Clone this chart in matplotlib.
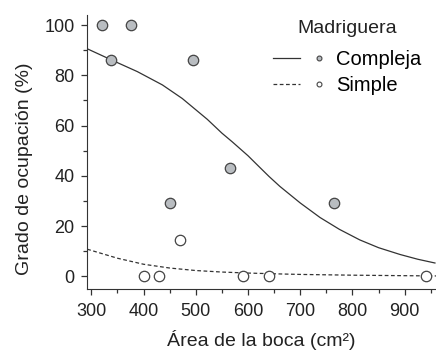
import matplotlib.pyplot as plt
from matplotlib.lines import Line2D
from matplotlib.legend_handler import HandlerTuple
from matplotlib.ticker import MultipleLocator

plt.rcParams['font.family'] = ['Liberation Sans', 'DejaVu Sans']

# observed points
compleja_x = [320, 375, 338, 495, 565, 450, 765]
compleja_y = [100, 100, 86, 86, 43, 29, 29]
simple_x = [470, 400, 430, 590, 640, 940]
simple_y = [14.3, 0, 0, 0, 0, 0]

# fitted curves
compleja_fx = [292, 340, 388, 436, 474, 522, 550, 570, 600, 617, 640, 661,
               700, 738, 775, 814, 850, 891, 925, 958]
compleja_fy = [90.6, 86, 81.5, 76.2, 70.8, 62.5, 57, 53.5, 48, 44.5, 39.8, 35.8,
               29.2, 23.4, 18.7, 14.5, 11.4, 8.7, 6.8, 5.3]
simple_fx = [292, 350, 400, 450, 500, 550, 600, 650, 700, 800, 900, 960]
simple_fy = [10.8, 7.2, 4.8, 3.3, 2.3, 1.7, 1.3, 1.0, 0.75, 0.45, 0.25, 0.15]

fig = plt.figure(figsize=(4.36, 3.51), dpi=100)
ax = fig.add_axes([0.2, 0.177, 0.8, 0.78])

line_c, = ax.plot(compleja_fx, compleja_fy, '-', color='#333333', lw=0.9)
line_s, = ax.plot(simple_fx, simple_fy, '--', color='#333333', lw=0.9, dashes=(3, 2))
ax.plot(compleja_x, compleja_y, 'o', ms=7.5, mfc='#b9bdc1', mec='#444444', mew=0.9, clip_on=False)
ax.plot(simple_x, simple_y, 'o', ms=7.5, mfc='white', mec='#444444', mew=0.9, clip_on=False)

ax.set_xlim(292, 960)
ax.set_ylim(-5, 104)
ax.xaxis.set_major_locator(MultipleLocator(100))
ax.xaxis.set_minor_locator(MultipleLocator(50))
ax.yaxis.set_major_locator(MultipleLocator(20))
ax.yaxis.set_minor_locator(MultipleLocator(10))
ax.tick_params(which='both', direction='out', color='#333333', labelsize=13, width=0.9,
               labelcolor='#222222')
ax.tick_params(which='major', length=4)
ax.tick_params(which='minor', length=3)
ax.tick_params(axis='x', which='major', pad=6)
ax.tick_params(axis='y', which='major', pad=5)
for s in ['top', 'right']:
    ax.spines[s].set_visible(False)
for s in ['left', 'bottom']:
    ax.spines[s].set_color('#333333')

ax.set_xlabel('Área de la boca (cm²)', fontsize=14, color='#222222', labelpad=7.5)
ax.set_ylabel('Grado de ocupación (%)', fontsize=14, color='#222222')
ax.yaxis.set_label_coords(-0.155, 0.44)

mk_c = Line2D([], [], ls='none', marker='o', ms=3.5, mfc='#b9bdc1', mec='#444444', mew=0.8)
mk_s = Line2D([], [], ls='none', marker='o', ms=3.5, mfc='white', mec='#444444', mew=0.8)
leg = ax.legend([(line_c, mk_c), (line_s, mk_s)], ['Compleja', 'Simple'],
                handler_map={tuple: HandlerTuple(ndivide=None, pad=0.3)},
                title='Madriguera', frameon=False, fontsize=14.5, title_fontsize=14,
                loc='upper right', bbox_to_anchor=(1.01, 1.05), handlelength=3.0,
                handletextpad=0.15, labelspacing=0.35)
leg._legend_box.sep = 10
leg.get_title().set_color('#222222')

fig.savefig('out.png', dpi=100)
